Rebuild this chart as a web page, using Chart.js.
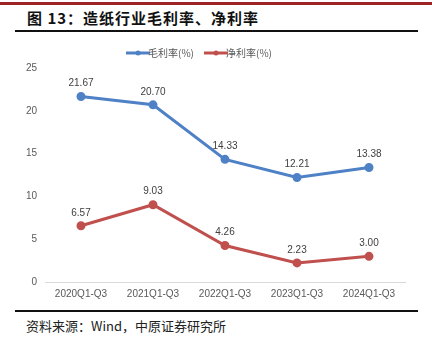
<!DOCTYPE html>
<html>
<head>
<meta charset="utf-8">
<script src="https://cdn.jsdelivr.net/npm/chart.js@4/dist/chart.umd.min.js"></script>
<style>
  body { margin: 0; width: 432px; height: 346px; background: #fff; position: relative; overflow: hidden; font-family: "Noto Sans CJK SC", sans-serif; }
  #topbar { position: absolute; left: 0; top: 2px; width: 432px; height: 3px; background: #9e2326; }
  #title { position: absolute; left: 27px; top: 7px; font-size: 15px; font-weight: bold; color: #111; letter-spacing: 1px; }
  .rule { position: absolute; left: 15px; width: 403px; height: 2px; background: #111; }
  #source { position: absolute; left: 26px; top: 316px; font-size: 13px; color: #222; }
  #wrap { position: absolute; left: 0; top: 31px; width: 432px; height: 279px; }
</style>
</head>
<body>
<div id="topbar"></div>
<div id="title">图 13：造纸行业毛利率、净利率</div>
<div class="rule" style="top:30px"></div>
<div id="wrap"><canvas id="grafico"></canvas></div>
<div class="rule" style="top:310px"></div>
<div id="source">资料来源：Wind，中原证券研究所</div>
<script>
// dados do grafico
const categorias = ['2020Q1-Q3', '2021Q1-Q3', '2022Q1-Q3', '2023Q1-Q3', '2024Q1-Q3'];
const margemBruta = [21.67, 20.70, 14.33, 12.21, 13.38];
const margemLiquida = [6.57, 9.03, 4.26, 2.23, 3.00];
const ticksY = [0, 5, 10, 15, 20, 25];

const corAzul = '#4f81c6';
const corVermelha = '#c0504d';

// icone da legenda: linha com ponto no meio
function iconeLegenda(cor) {
  const c = document.createElement('canvas');
  c.width = 24; c.height = 8;
  const g = c.getContext('2d');
  g.strokeStyle = cor; g.lineWidth = 3;
  g.beginPath(); g.moveTo(0, 4); g.lineTo(24, 4); g.stroke();
  g.fillStyle = cor;
  g.beginPath(); g.arc(12, 4, 2.5, 0, Math.PI * 2); g.fill();
  return c;
}

// rotulos de dados acima dos pontos
const rotulos = {
  id: 'rotulos',
  afterDatasetsDraw(chart) {
    const ctx = chart.ctx;
    ctx.save();
    ctx.font = '10px "Liberation Sans", Arial, sans-serif';
    ctx.fillStyle = '#404040';
    ctx.textAlign = 'center';
    ctx.textBaseline = 'bottom';
    chart.data.datasets.forEach((ds, i) => {
      chart.getDatasetMeta(i).data.forEach((pt, j) => {
        ctx.fillText(ds.data[j].toFixed(2), pt.x, pt.y - 8);
      });
    });
    ctx.restore();
  }
};

const ctx = document.getElementById('grafico').getContext('2d');
const grafico = new Chart(ctx, {
  type: 'line',
  data: {
    labels: categorias,
    datasets: [{
      label: '毛利率(%)',
      data: margemBruta,
      borderColor: corAzul,
      backgroundColor: corAzul,
      borderWidth: 3,
      pointRadius: 3,
      pointStyle: 'circle'
    }, {
      label: '净利率(%)',
      data: margemLiquida,
      borderColor: corVermelha,
      backgroundColor: corVermelha,
      borderWidth: 3,
      pointRadius: 3,
      pointStyle: 'circle'
    }]
  },
  options: {
    responsive: true,
    maintainAspectRatio: false,
    animation: false,
    layout: { padding: { left: 0, right: 27, top: 0, bottom: 4 } },
    elements: { line: { tension: 0 } },
    plugins: {
      legend: {
        position: 'top',
        labels: {
          usePointStyle: true,
          color: '#595959',
          font: { size: 10, family: '"Noto Sans CJK SC", sans-serif' },
          boxHeight: 8,
          padding: 17,
          generateLabels(chart) {
            return chart.data.datasets.map((ds, i) => ({
              text: ds.label,
              fontColor: '#595959',
              pointStyle: iconeLegenda(ds.borderColor),
              strokeStyle: 'transparent',
              fillStyle: 'transparent',
              lineWidth: 0,
              datasetIndex: i
            }));
          }
        }
      },
      tooltip: { enabled: false }
    },
    scales: {
      x: {
        offset: true,
        grid: { display: false, drawTicks: false },
        border: { color: '#d9d9d9', width: 1 },
        ticks: { color: '#595959', font: { size: 10, family: '"Liberation Sans", Arial, sans-serif' }, padding: 6 }
      },
      y: {
        min: 0,
        max: 25,
        afterFit(scale) { scale.width = 45; },
        afterBuildTicks(scale) { scale.ticks = ticksY.map(v => ({ value: v })); },
        grid: { display: false, drawTicks: false },
        border: { display: false },
        ticks: { color: '#595959', font: { size: 10, family: '"Liberation Sans", Arial, sans-serif' }, padding: 8 }
      }
    }
  },
  plugins: [rotulos]
});
</script>
</body>
</html>
